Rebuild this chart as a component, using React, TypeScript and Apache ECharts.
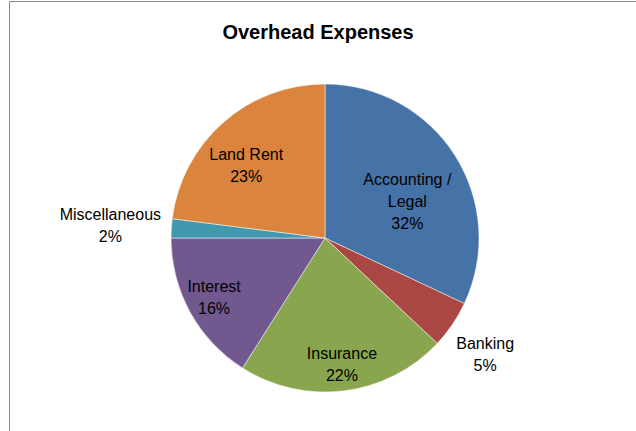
import React, { useEffect, useRef } from "react";
import * as echarts from "echarts";

const categories = ["Accounting /\nLegal", "Banking", "Insurance", "Interest", "Miscellaneous", "Land Rent"];
const values = [32, 5, 22, 16, 2, 23];
const colors = ["#4572A7", "#AA4643", "#89A54E", "#71588F", "#4198AF", "#DB843D"];
// label placement (layout only): distance from the pie centre and angular nudge
const labelDist = [87, 195, 125, 123, 212, 104];
const labelStart = [81.4, 88.2, 90.4, 89.5, 90.35, 96.0];

const CX = 325;
const CY = 238;
const R = 154;

export default function App() {
  const ref = useRef<HTMLDivElement>(null);
  useEffect(() => {
    document.body.style.margin = "0";
    const chart = echarts.init(ref.current!, null, { renderer: "svg" });
    const data = categories.map((name, i) => ({ name, value: values[i], itemStyle: { color: colors[i] } }));
    const labelSeries = categories.map((_, k) => ({
      type: "pie",
      silent: true,
      center: [CX, CY],
      radius: [labelDist[k] - 1, labelDist[k] + 1],
      startAngle: labelStart[k],
      clockwise: true,
      itemStyle: { color: "transparent", borderWidth: 0 },
      labelLine: { show: false },
      emphasis: { disabled: true },
      data: categories.map((name, i) => ({
        name,
        value: values[i],
        itemStyle: { color: "transparent" },
        label: {
          show: i === k,
          position: "inside",
          formatter: "{b}\n{d}%",
          color: "#000",
          fontFamily: "Liberation Sans",
          fontSize: 16,
          lineHeight: 22,
          align: "center",
        },
      })),
    }));
    chart.setOption({
      animation: false,
      backgroundColor: "#fff",
      title: {
        text: "Overhead Expenses",
        left: "center",
        top: 17,
        textStyle: { fontFamily: "Liberation Sans", fontWeight: "bold", fontSize: 20, color: "#000" },
      },
      graphic: [
        {
          type: "polyline",
          shape: { points: [[9.5, 440], [9.5, 1.5], [640, 1.5]] },
          style: { stroke: "#8a8a8a", lineWidth: 1, fill: null },
        },
      ],
      series: [
        {
          type: "pie",
          center: [CX, CY],
          radius: R,
          startAngle: 90,
          clockwise: true,
          label: { show: false },
          labelLine: { show: false },
          itemStyle: { borderColor: "#fff", borderWidth: 0.5 },
          emphasis: { disabled: true },
          data,
        },
        ...labelSeries,
      ],
    });
    return () => chart.dispose();
  }, []);
  return <div ref={ref} style={{ position: "absolute", left: 0, top: 0, width: 636, height: 431 }} />;
}
